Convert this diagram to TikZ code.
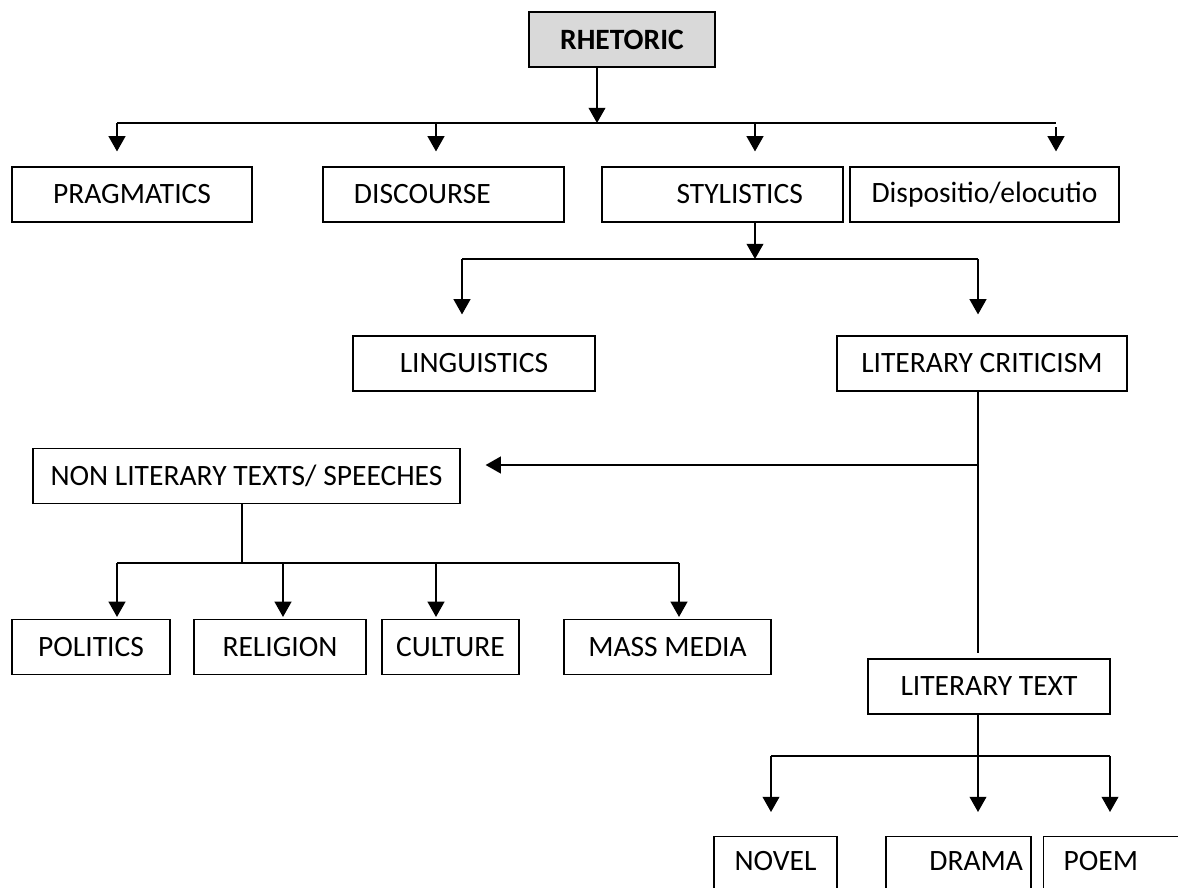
\documentclass[tikz,border=0pt]{standalone}
\usepackage{fontspec}
\setmainfont{Carlito}
\usetikzlibrary{arrows.meta, calc}
\definecolor{headgray}{HTML}{D9D9D9}

\begin{document}
\begin{tikzpicture}[x=0.025cm, y=-0.025cm,
    font=\fontsize{21}{25}\selectfont,
    box/.style={rectangle,draw,line width=0.8pt,inner sep=0pt,minimum height=1.375cm},
    head/.style={box,fill=headgray,font=\fontsize{21}{25}\selectfont\bfseries},
    open leaf/.style={box,anchor=north,minimum height=0pt,inner ysep=0pt,text height=0.86cm,text depth=0.74cm},
    link/.style={line width=1.1pt},
    arr/.style={link,-{Triangle[width=0.42cm,length=0.38cm]}}]

    \useasboundingbox (0,0) rectangle (1178,888);

    \node[head, minimum width=4.65cm] (rhetoric) at (622,39.5) {RHETORIC};

    \node[box, minimum width=6cm]     (pragmatics) at (132,194.5) {PRAGMATICS};
    \node[box, inner xsep=0.775cm, text width=4.475cm, align=left] (discourse) at (443.5,194.5) {DISCOURSE};
    \node[box, inner xsep=1cm, text width=4.025cm, align=right] (stylistics) at (722.5,194.5) {STYLISTICS};
    \node[box, minimum width=6.725cm] (dispositio) at (984.5,194.5) {Dispositio/elocutio};

    \node[box, minimum width=6.05cm]  (linguistics) at (474,363.5) {LINGUISTICS};
    \node[box, minimum width=7.25cm]  (litcrit)     at (982,363.5) {LITERARY CRITICISM};

    \node[box, minimum width=10.675cm] (nonlit) at (246.5,476) {NON LITERARY TEXTS/ SPEECHES};

    \node[box, minimum width=3.95cm]  (politics) at (91,647)    {POLITICS};
    \node[box, minimum width=4.3cm]   (religion) at (280,647)   {RELIGION};
    \node[box, minimum width=3.425cm] (culture)  at (450.5,647) {CULTURE};
    \node[box, minimum width=5.175cm] (massmedia) at (667.5,647) {MASS MEDIA};

    \node[box, minimum width=6.05cm]  (littext) at (989,686.5) {LITERARY TEXT};

    \node[open leaf, minimum width=3.075cm] (novel) at (775.5,836) {NOVEL};
    \node[open leaf, inner xsep=0.2cm, text width=3.225cm, align=right] (drama) at (958.5,836) {DRAMA};
    \node[open leaf, anchor=north west, inner xsep=0.5cm, text width=3cm, align=left] (poem) at (1043,836) {POEM};

    \coordinate (r1)  at (597,123);
    \coordinate (b1a) at (117,123);
    \coordinate (b1c) at (436,123);
    \coordinate (b1d) at (755,123);
    \coordinate (b1b) at (1056,123);
    \draw[arr] (rhetoric.south -| r1) -- (r1);
    \draw[link] (b1a) -- (b1b);
    \draw[arr, shorten >=0.375cm] (b1a) -- (b1a |- pragmatics.north);
    \draw[arr, shorten >=0.375cm] (b1c) -- (b1c |- discourse.north);
    \draw[arr, shorten >=0.375cm] (b1d) -- (b1d |- stylistics.north);
    \draw[arr, shorten <=0.1cm, shorten >=0.375cm] (b1b) -- (b1b |- dispositio.north);

    \coordinate (s1)  at (755,259);
    \coordinate (b2a) at (462,259);
    \coordinate (b2b) at (978,259);
    \draw[arr] (stylistics.south -| s1) -- (s1);
    \draw[link] (b2a) -- (b2b);
    \draw[arr, shorten >=0.525cm] (b2a) -- (b2a |- linguistics.north);
    \draw[arr, shorten >=0.525cm] (b2b) -- (b2b |- litcrit.north);

    \coordinate (lc1) at (978,465);
    \draw[link, shorten >=0.125cm] (litcrit.south -| b2b) -- (b2b |- littext.north);
    \draw[arr, shorten >=0.625cm] (lc1) -- (lc1 -| nonlit.east);

    \coordinate (n1)  at (242,563);
    \coordinate (b3a) at (117,563);
    \coordinate (b3c) at (283,563);
    \coordinate (b3d) at (436,563);
    \coordinate (b3b) at (679,563);
    \draw[link] (nonlit.south -| n1) -- (n1);
    \draw[link] (b3a) -- (b3b);
    \draw[arr, shorten >=0.05cm] (b3a) -- (b3a |- politics.north);
    \draw[arr, shorten >=0.05cm] (b3c) -- (b3c |- religion.north);
    \draw[arr, shorten >=0.05cm] (b3d) -- (b3d |- culture.north);
    \draw[arr, shorten >=0.05cm] (b3b) -- (b3b |- massmedia.north);

    \coordinate (b4a) at (771,756);
    \coordinate (b4c) at (978,756);
    \coordinate (b4b) at (1110,756);
    \draw[link] (littext.south -| b4c) -- (b4c);
    \draw[link] (b4a) -- (b4b);
    \draw[arr, shorten >=0.6cm] (b4a) -- (b4a |- novel.north);
    \draw[arr, shorten >=0.6cm] (b4c) -- (b4c |- drama.north);
    \draw[arr, shorten >=0.6cm] (b4b) -- (b4b |- poem.north);
\end{tikzpicture}
\end{document}
